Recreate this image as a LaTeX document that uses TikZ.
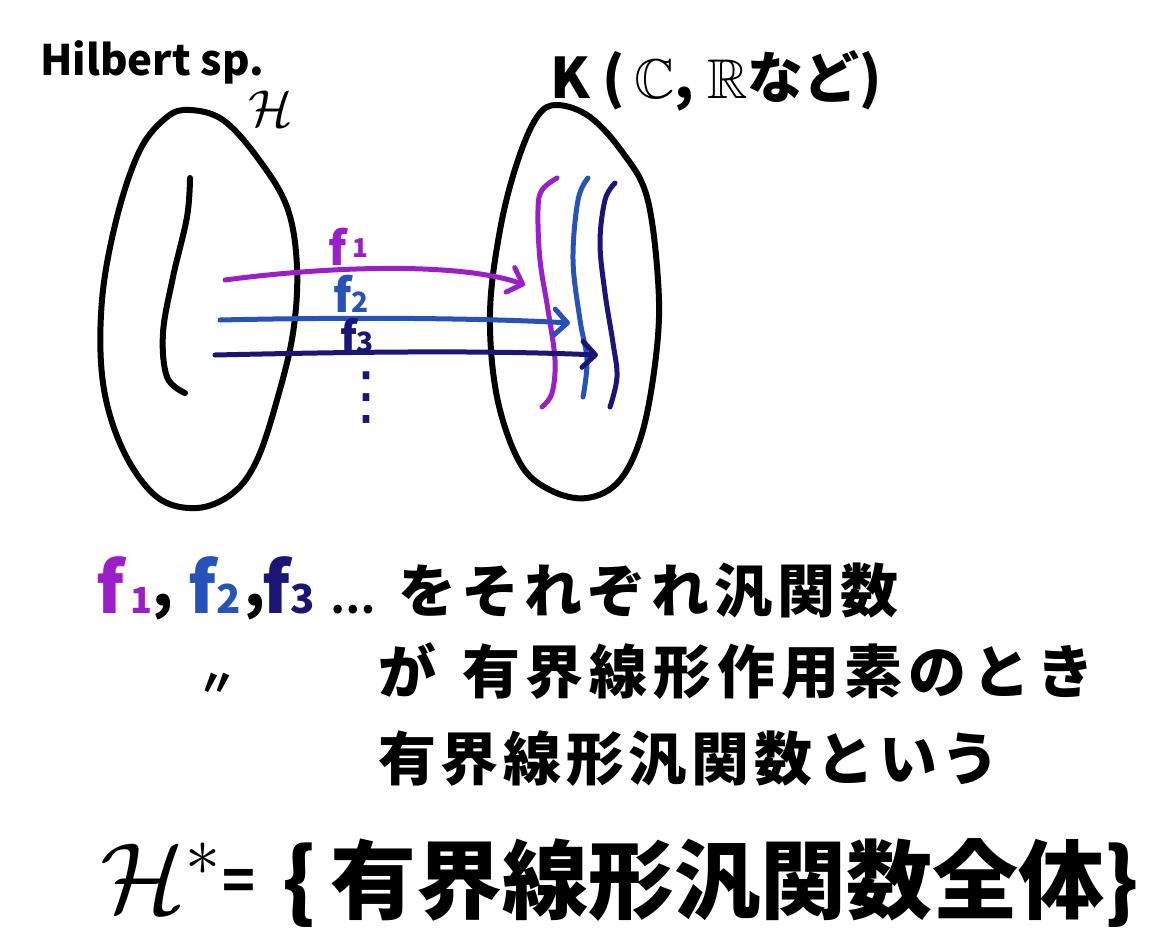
\RequirePackage{fix-cm}
\documentclass[tikz,border=0pt]{standalone}
\usepackage{amssymb}
\DeclareFontFamily{U}{msb}{}
\DeclareFontShape{U}{msb}{m}{n}{<-6>msbm5<6-8>msbm7<8->msbm10}{}
\usepackage{fontspec}
\setmainfont{Noto Sans CJK JP}
\newfontfamily\djv{DejaVu Sans}
\usetikzlibrary{arrows.meta}
\definecolor{fpurple}{HTML}{9A1FC9}
\definecolor{fblue}{HTML}{2752B8}
\definecolor{fnavy}{HTML}{1B1577}
\tikzset{
  hand/.style={line width=6pt, line cap=round, line join=round},
  inner/.style={line width=5pt, line cap=round, line join=round},
  farrow/.style={line width=5pt, line cap=round, line join=round,
    -{Straight Barb[length=13pt,width=26pt,line cap=round,line join=round]}},
  lbl/.style={inner sep=0pt, anchor=base west, font=\bfseries},
}
\newcommand{\fs}[1]{\fontsize{#1}{#1}\selectfont}
\begin{document}
\begin{tikzpicture}[x=1pt,y=-1pt]
\useasboundingbox (0,0) rectangle (1176,940);
% titles
\node[lbl] (hil) at (40,75) {\fs{42}Hilbert sp.};
\node[lbl] (Hs) at (248,126) {\fs{52}$\mathcal{H}$};
\node[lbl] (Kf) at (550,98) {\fs{56}K (\,$\mathbb{C}$, $\mathbb{R}$など)};
% left ellipse
\draw[hand] plot[smooth cycle, tension=0.6] coordinates {
 (190,110) (223,120) (257,157) (287,207) (297,267) (293,333) (277,400)
 (257,460) (233,493) (197,508) (157,497) (123,450) (103,383) (102,300)
 (117,217) (140,150) (167,117)};
\draw[hand] plot[smooth, tension=0.6] coordinates {
 (190,178) (187,217) (173,277) (163,333) (167,377) (185,393)};
% right ellipse
\draw[hand] plot[smooth cycle, tension=0.6] coordinates {
 (557,105) (590,117) (623,153) (647,197) (658,280) (657,347) (643,430)
 (620,480) (587,498) (550,490) (520,463) (497,397) (490,313) (500,230)
 (517,163) (537,117)};
% inner curves on right
\draw[inner,fpurple] plot[smooth, tension=0.6] coordinates {
 (557,178) (542,190) (538,210) (540,260) (548,310) (555,360) (552,393) (542,407)};
\draw[inner,fblue] plot[smooth, tension=0.6] coordinates {
 (588,178) (578,200) (573,260) (580,320) (587,360) (583,397)};
\draw[inner,fnavy] plot[smooth, tension=0.6] coordinates {
 (615,183) (605,200) (600,243) (605,293) (613,343) (617,377) (610,407)};
% arrows
\coordinate (s1) at (225,280); \coordinate (e1) at (525,285);
\coordinate (s2) at (220,320); \coordinate (e2) at (570,323);
\coordinate (s3) at (215,355); \coordinate (e3) at (598,355);
\draw[farrow,fpurple] (s1) .. controls (330,266) and (460,262) .. (e1);
\draw[farrow,fblue] (s2) .. controls (350,317) and (480,318) .. (e2);
\draw[farrow,fnavy] (s3) .. controls (350,352) and (480,350) .. (e3);
\node[lbl,fpurple] (l1) at (328,265) {\fs{46}f\hspace{6pt}\raisebox{8pt}{\fs{26}1}};
\node[lbl,fblue] (l2) at (333,312) {\fs{46}f\fs{28}2};
\node[lbl,fnavy] (l3) at (340,352) {\fs{42}f\fs{28}3};
\node[inner sep=0pt,fnavy] (vd) at (366,398) {\djv\fs{64}⋮};
% text lines
\node[lbl,fpurple] (f1) at (96,613) {\fs{70}f\hspace{6pt}\fs{36}1};
\node[lbl] (c1) at (152,606) {\fs{60},};
\node[lbl,fblue] (f2) at (188,613) {\fs{70}f\fs{40}2};
\node[lbl] (c2) at (244,606) {\fs{60},};
\node[lbl,fnavy] (f3) at (262,613) {\fs{70}f\fs{40}3};
\node[lbl] (dd) at (330,613) {\fs{40}…};
\node[lbl] (t1) at (398,612) {\fs{58}\addfontfeature{LetterSpace=9}をそれぞれ汎関数};
\node[lbl] (ditto) at (198,696) {\fs{38}〃};
\node[lbl] (t2) at (378,693) {\fs{58}\addfontfeature{LetterSpace=10}が\hspace{26pt}有界線形作用素のとき};
\node[lbl] (t3) at (378,780) {\fs{58}\addfontfeature{LetterSpace=8}有界線形汎関数という};
\node[lbl] (H4) at (100,912) {\fs{100}$\mathcal{H}^{*}$};
\node[lbl] (eq) at (222,900) {\fs{54}=};
\node[lbl] (t4) at (282,912) {\fs{86}\{\,有界線形汎関数全体\}};
\end{tikzpicture}
\end{document}
